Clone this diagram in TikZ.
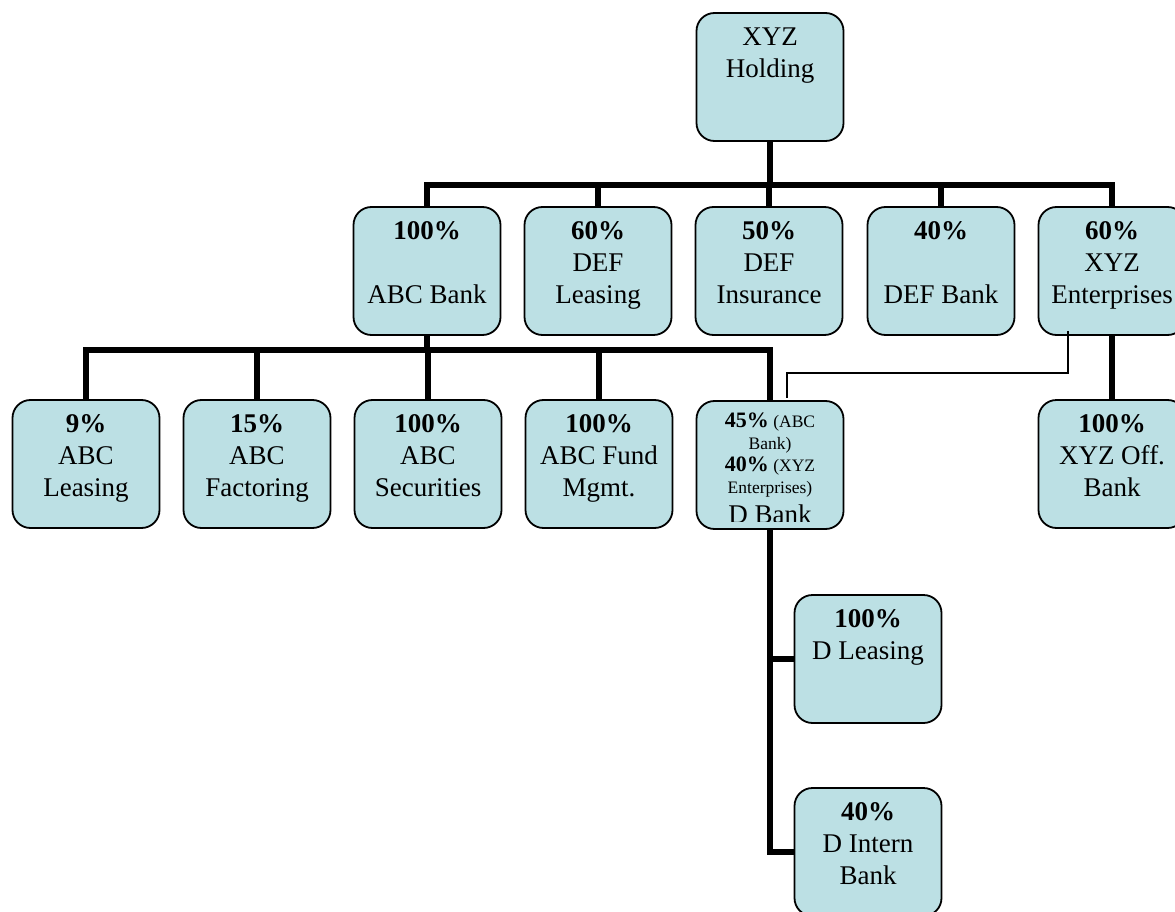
\documentclass[tikz,border=0pt]{standalone}
\usepackage{fontspec}
\setmainfont{Liberation Serif}
\usetikzlibrary{calc}
\definecolor{boxfill}{RGB}{188,224,228}
\tikzset{
  orgbox/.style={draw=black, line width=1.8pt, fill=boxfill, rounded corners=18pt,
    minimum width=147pt, minimum height=128pt, inner sep=0pt},
  orglabel/.style={anchor=north, inner sep=0pt, align=center,
    font=\fontsize{27}{32}\selectfont},
  smalllabel/.style={anchor=north, inner sep=0pt, align=center,
    font=\fontsize{17.5}{22}\selectfont},
  conn/.style={line width=6pt, draw=black},
  thinconn/.style={line width=1.4pt, draw=black},
}
% box with its caption set from the top edge down
\newcommand\orgunit[4]{%
  \node[orgbox] (#1) at (#2,#3+64) {};
  \node[orglabel] (#1-t) at ([shift={(0,14)}]#1.north) {\rule{0pt}{19pt}#4};
}
\begin{document}
\begin{tikzpicture}[x=1pt, y=-1pt]
\useasboundingbox (0,0) rectangle (1175,912);
\clip (0,0) rectangle (1175,912);

% bus lines
\coordinate (bar1) at (0,185);
\coordinate (bar2) at (0,350);

% boxes
\orgunit{hold}{770}{13}{XYZ\\Holding}
\orgunit{abc}{427}{207}{\textbf{100\%}\\ \\ABC Bank}
\orgunit{defl}{598}{207}{\textbf{60\%}\\DEF\\Leasing}
\orgunit{defi}{769}{207}{\textbf{50\%}\\DEF\\Insurance}
\orgunit{defb}{941}{207}{\textbf{40\%}\\ \\DEF Bank}
\orgunit{xyze}{1112}{207}{\textbf{60\%}\\XYZ\\Enterprises}
\orgunit{abcl}{86}{400}{\textbf{9\%}\\ABC\\Leasing}
\orgunit{abcf}{257}{400}{\textbf{15\%}\\ABC\\Factoring}
\orgunit{abcs}{428}{400}{\textbf{100\%}\\ABC\\Securities}
\orgunit{abcm}{599}{400}{\textbf{100\%}\\ABC Fund\\Mgmt.}
\orgunit{xyzo}{1112}{400}{\textbf{100\%}\\XYZ Off.\\Bank}
\orgunit{dlea}{868}{595}{\textbf{100\%}\\D Leasing}
\orgunit{dint}{868}{788}{\textbf{40\%}\\D Intern\\Bank}

% D Bank with mixed type sizes; last line runs into the box edge
\node[orgbox] (dbank) at (770,465) {};
\begin{scope}
  \clip (697,401) rectangle (843,521);
  \node[smalllabel] (dbank-t) at ([shift={(0,11)}]dbank.north)
    {\rule{0pt}{16pt}{\fontsize{22}{22}\selectfont\bfseries 45\%} (ABC\\
     Bank)\\
     {\fontsize{22}{22}\selectfont\bfseries 40\%} (XYZ\\
     Enterprises)\\[7pt]
     {\fontsize{27}{27}\selectfont D Bank}};
\end{scope}

\draw[conn] (hold.south) -- (hold.south |- bar1);
\draw[conn] (abc.north) -- (abc.north |- bar1) -- (xyze.north |- bar1) -- (xyze.north);
\foreach \n in {defl,defi,defb}
  \draw[conn] (\n.north |- bar1) -- (\n.north);

\draw[conn] (abc.south) -- (abc.south |- bar2);
\draw[conn] (abcl.north) -- (abcl.north |- bar2) -- (dbank.north |- bar2) -- (dbank.north);
\foreach \n in {abcf,abcs,abcm}
  \draw[conn] (\n.north |- bar2) -- (\n.north);

\draw[conn] (xyze.south) -- (xyzo.north);

\draw[conn] (dbank.south) -- (dbank.south |- dint.west) -- (dint.west);
\draw[conn] (dbank.south |- dlea.west) -- (dlea.west);

% minority stake of XYZ Enterprises in D Bank
\draw[thinconn] ([shift={(-44,-5)}]xyze.south) |- ([shift={(17,-27)}]dbank.north)
  -- ([shift={(17,-2)}]dbank.north);
\end{tikzpicture}
\end{document}
